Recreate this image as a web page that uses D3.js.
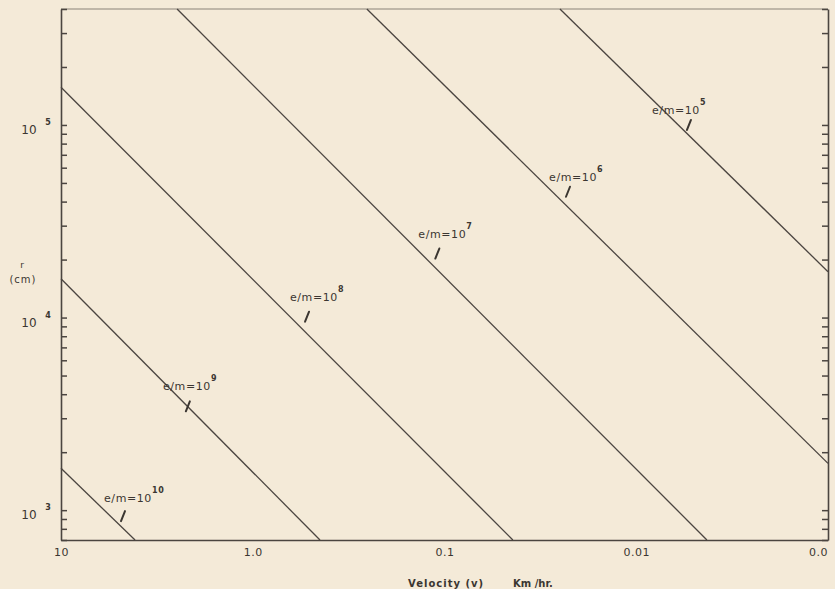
<!DOCTYPE html>
<html>
<head>
<meta charset="utf-8">
<script src="https://cdn.jsdelivr.net/npm/d3@7"></script>
<style>
  body{margin:0;background:#f4ead8;}
  svg{display:block;}
  text{font-family:"DejaVu Sans",sans-serif;fill:#3b3631;}
</style>
</head>
<body>
<script>
//data
const emExp = [10, 9, 8, 7, 6, 5]
// line end points, velocity (km/hr) and radius (cm)
const lineV = [[10, 4.11], [10, 0.446], [10, 0.044], [2.48, 0.00428], [0.254, 0.001], [0.025, 0.001]]
const lineR = [[1650, 700], [15900, 700], [157000, 700], [400000, 700], [400000, 1750], [400000, 17300]]
// label anchors (start of "e/m=10") and the little pointer strokes
const labelV = [5.97, 2.94, 0.64, 0.137, 0.0285, 0.00828]
const labelR = [1100, 4190, 12250, 26000, 51300, 114000]
const slashV = [4.75, 2.18, 0.521, 0.109, 0.0227, 0.00531]
const slashR = [931, 3460, 10100, 21500, 45000, 100000]
const xTicks = [10, 1, 0.1, 0.01, 0.001]
const xTickLabels = ["10", "1.0", "0.1", "0.01", "0.0"]
const yLabelExp = [3, 4, 5]

let width = 835, height = 589
let mLeft = 61, mRight = 828, mTop = 9, mBottom = 540
let ink = "#4b4540"

let svg = d3.select("body").append("svg").attr("width", width).attr("height", height)
svg.append("rect").attr("width", width).attr("height", height).attr("fill", "#f4ead8")

let x = d3.scaleLog().domain([10, 0.001]).range([mLeft, mRight])
let y = d3.scaleLog().domain([700, 400000]).range([mBottom, mTop])

//frame: top line is faint in the scan
svg.append("line").attr("x1", mLeft).attr("x2", mRight).attr("y1", mTop).attr("y2", mTop)
  .attr("stroke", "#8a8278").attr("stroke-width", 1.2)

let yAxisL = d3.axisLeft(y).tickValues(y.ticks()).tickSize(-6).tickSizeOuter(0).tickFormat("")
let yAxisR = d3.axisRight(y).tickValues(y.ticks()).tickSize(-6).tickSizeOuter(0).tickFormat("")
let gl = svg.append("g").attr("transform", `translate(${mLeft},0)`).call(yAxisL)
let gr = svg.append("g").attr("transform", `translate(${mRight},0)`).call(yAxisR)

let xAxis = d3.axisBottom(x).tickValues(xTicks).tickSize(0).tickSizeOuter(0).tickPadding(8)
  .tickFormat((d, i) => xTickLabels[i])
let gb = svg.append("g").attr("transform", `translate(0,${mBottom})`).call(xAxis)

svg.selectAll(".domain").attr("stroke", ink).attr("stroke-width", 1.6)
svg.selectAll(".tick line").attr("stroke", ink).attr("stroke-width", 1.5)
gb.selectAll(".tick text").attr("font-size", 11).attr("font-family", "DejaVu Sans, sans-serif")
  .attr("fill", "#3b3631").attr("letter-spacing", 0.5)
gb.selectAll(".tick").filter((d, i) => i == xTicks.length - 1).select("text").attr("dx", -10)

//y decade labels
yLabelExp.forEach(e => {
  let yy = y(Math.pow(10, e))
  svg.append("text").attr("x", 29).attr("y", yy + 9).attr("text-anchor", "middle")
    .attr("font-size", 12).text("10")
  svg.append("text").attr("x", 48).attr("y", yy + 0).attr("text-anchor", "middle")
    .attr("font-size", 8).attr("font-weight", "bold").text(e)
})
svg.append("text").attr("x", 22).attr("y", 268).attr("text-anchor", "middle")
  .attr("font-size", 9).text("r")
svg.append("text").attr("x", 23).attr("y", 283).attr("text-anchor", "middle")
  .attr("font-size", 10).attr("letter-spacing", 1).text("(cm)")

//x title
svg.append("text").attr("x", 408).attr("y", 587).attr("font-size", 10).attr("font-weight", "bold")
  .attr("letter-spacing", 1).text("Velocity (v)")
svg.append("text").attr("x", 513).attr("y", 587).attr("font-size", 10).attr("font-weight", "bold")
  .text("Km /hr.")

//e/m lines
let line = d3.line().x(d => x(d[0])).y(d => y(d[1]))
emExp.forEach((e, i) => {
  let pts = lineV[i].map((v, j) => [v, lineR[i][j]])
  svg.append("path").datum(pts).attr("d", line).attr("fill", "none")
    .attr("stroke", ink).attr("stroke-width", 1.3)

  let t = svg.append("text").attr("x", x(labelV[i])).attr("y", y(labelR[i]))
    .attr("font-size", 11).attr("letter-spacing", 0.6)
  t.append("tspan").text("e/m=10")
  t.append("tspan").attr("dy", -9).attr("font-size", 8).attr("font-weight", "bold").text(e)

  let sx = x(slashV[i]), sy = y(slashR[i])
  svg.append("line").attr("x1", sx - 2).attr("y1", sy + 5).attr("x2", sx + 2).attr("y2", sy - 5)
    .attr("stroke", "#3b3631").attr("stroke-width", 2).attr("stroke-linecap", "round")
})
</script>
</body>
</html>
